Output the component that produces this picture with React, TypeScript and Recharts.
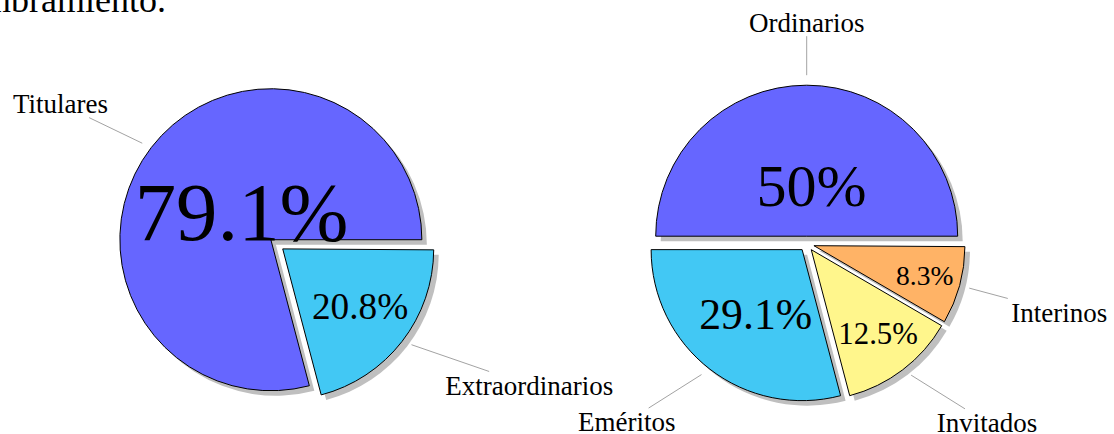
import React from "react";
import { PieChart, Pie, Sector } from "recharts";

// Profesorado: reparto por categoría
const leftNames = ["Titulares", "Extraordinarios"];
const leftValues = [79.1, 20.8];

const rightNames = ["Ordinarios", "Eméritos", "Invitados", "Interinos"];
const rightValues = [50, 29.1, 12.5, 8.3];

const sliceColors = ["#6666ff", "#42c8f4", "#fff68c", "#ffb366"];

const leftData = leftNames.map((name, i) => ({ name, value: leftValues[i] }));
const rightData = rightNames.map((name, i) => ({ name, value: rightValues[i] }));

const W = 1114;
const H = 434;
const RADIUS = 151;
const EXPLODE = 7.5;
const SHADOW_DX = 5;
const SHADOW_DY = 5;
const FONT = '"Liberation Serif", "Times New Roman", serif';
const NAME_SIZE = 27;
const CAP = 0.69 * NAME_SIZE;
const PAD = 4.5;
const PIN_DIST = 49;
const NODE_GAP = 10;
const RAD = Math.PI / 180;

// slices are sized out of 100, like the percentages printed on them
const sweepOf = (values: number[]) => values.reduce((s, v) => s + v, 0) * 3.6;

const unit = (angle: number): [number, number] => [
  Math.cos(angle * RAD),
  -Math.sin(angle * RAD),
];

let ctx: CanvasRenderingContext2D | null = null;
function textWidth(s: string, size: number) {
  if (!ctx && typeof document !== "undefined") {
    ctx = document.createElement("canvas").getContext("2d");
  }
  if (!ctx) return s.length * size * 0.45;
  ctx.font = `${size}px "Liberation Serif"`;
  return ctx.measureText(s).width;
}

// bigger slices keep their number nearer the centre
const innerPos = (sweep: number) =>
  0.8 + Math.max(-0.5, Math.min(0, (-0.3 * (sweep - 10)) / 110));

const numberSize = (value: number) => NAME_SIZE * (0.78 + 0.0289 * value);

const exploded = (p: any): [number, number] => {
  const [ux, uy] = unit(p.midAngle);
  return [p.cx + EXPLODE * ux, p.cy + EXPLODE * uy];
};

const renderShadow = (p: any) => {
  const [ox, oy] = exploded(p);
  return (
    <Sector
      cx={ox + SHADOW_DX}
      cy={oy + SHADOW_DY}
      innerRadius={0}
      outerRadius={p.outerRadius}
      startAngle={p.startAngle}
      endAngle={p.endAngle}
      fill="#bfbfbf"
      stroke="none"
    />
  );
};

const renderSlice = (p: any) => {
  const [ox, oy] = exploded(p);
  return (
    <Sector
      cx={ox}
      cy={oy}
      innerRadius={0}
      outerRadius={p.outerRadius}
      startAngle={p.startAngle}
      endAngle={p.endAngle}
      fill={sliceColors[p.index % sliceColors.length]}
      stroke="#000"
      strokeWidth={1}
    />
  );
};

const near = (a: number, b: number) => Math.abs(a - b) < 0.5;

const renderText = (p: any) => {
  const [ox, oy] = exploded(p);
  const [ux, uy] = unit(p.midAngle);
  const r = p.outerRadius;
  const name: string = p.payload?.name ?? p.name;
  const value: number = p.payload?.value ?? p.value;

  // number inside the slice
  const k = innerPos(Math.abs(p.endAngle - p.startAngle)) * r;
  const size = numberSize(value);

  // pin label outside the slice
  const axp = ox + r * ux;
  const ayp = oy + r * uy;
  const px = axp + PIN_DIST * ux;
  const py = ayp + PIN_DIST * uy;
  const bw = textWidth(name, NAME_SIZE) + 2 * PAD;
  const bh = CAP + 2 * PAD;
  const a = ((p.midAngle % 360) + 360) % 360;

  let left = px - bw / 2;
  if (!near(a, 90) && !near(a, 270)) left = a < 90 || a > 270 ? px : px - bw;
  let top = py - bh / 2;
  if (!near(a, 0) && !near(a, 180) && !near(a, 360)) top = a < 180 ? py - bh : py;

  const lcx = left + bw / 2;
  const lcy = top + bh / 2;
  const vx = lcx - axp;
  const vy = lcy - ayp;
  const len = Math.hypot(vx, vy) || 1;
  const dx = vx / len;
  const dy = vy / len;
  const t = Math.min(
    Math.abs(dx) > 1e-6 ? bw / 2 / Math.abs(dx) : Infinity,
    Math.abs(dy) > 1e-6 ? bh / 2 / Math.abs(dy) : Infinity
  );

  return (
    <g>
      <line
        x1={axp + NODE_GAP * dx}
        y1={ayp + NODE_GAP * dy}
        x2={lcx - t * dx}
        y2={lcy - t * dy}
        stroke="#8a8a8a"
        strokeWidth={0.8}
      />
      <text
        x={left + PAD}
        y={top + PAD + CAP}
        fontFamily={FONT}
        fontSize={NAME_SIZE}
        fill="#000"
      >
        {name}
      </text>
      <text
        x={ox + k * ux + size * 0.08}
        y={oy + k * uy}
        textAnchor="middle"
        dominantBaseline="central"
        fontFamily={FONT}
        fontSize={size}
        fill="#000"
      >
        {`${value}%`}
      </text>
    </g>
  );
};

const pieLayer = (
  key: string,
  data: { name: string; value: number }[],
  values: number[],
  cx: number,
  cy: number,
  label: (p: any) => React.ReactElement
) => (
  <Pie
    key={key}
    data={data}
    dataKey="value"
    nameKey="name"
    cx={cx}
    cy={cy}
    outerRadius={RADIUS}
    startAngle={0}
    endAngle={sweepOf(values)}
    fill="none"
    stroke="none"
    label={label}
    labelLine={false}
    isAnimationActive={false}
  />
);

export default function App() {
  return (
    <div
      style={{
        position: "absolute",
        left: 0,
        top: 0,
        width: W,
        height: H,
        background: "#fff",
        overflow: "hidden",
      }}
    >
      <svg
        width={300}
        height={30}
        style={{ position: "absolute", left: 0, top: 0 }}
      >
        <text
          x={166}
          y={12}
          textAnchor="end"
          fontFamily={FONT}
          fontSize={36}
          fill="#000"
        >
          nombramiento.
        </text>
      </svg>
      <PieChart
        width={W}
        height={H}
        margin={{ top: 0, right: 0, bottom: 0, left: 0 }}
      >
        {pieLayer("l-shadow", leftData, leftValues, 276.8, 244.3, renderShadow)}
        {pieLayer("l-slice", leftData, leftValues, 276.8, 244.3, renderSlice)}
        {pieLayer("l-text", leftData, leftValues, 276.8, 244.3, renderText)}
        {pieLayer("r-shadow", rightData, rightValues, 806.7, 243.7, renderShadow)}
        {pieLayer("r-slice", rightData, rightValues, 806.7, 243.7, renderSlice)}
        {pieLayer("r-text", rightData, rightValues, 806.7, 243.7, renderText)}
      </PieChart>
    </div>
  );
}
